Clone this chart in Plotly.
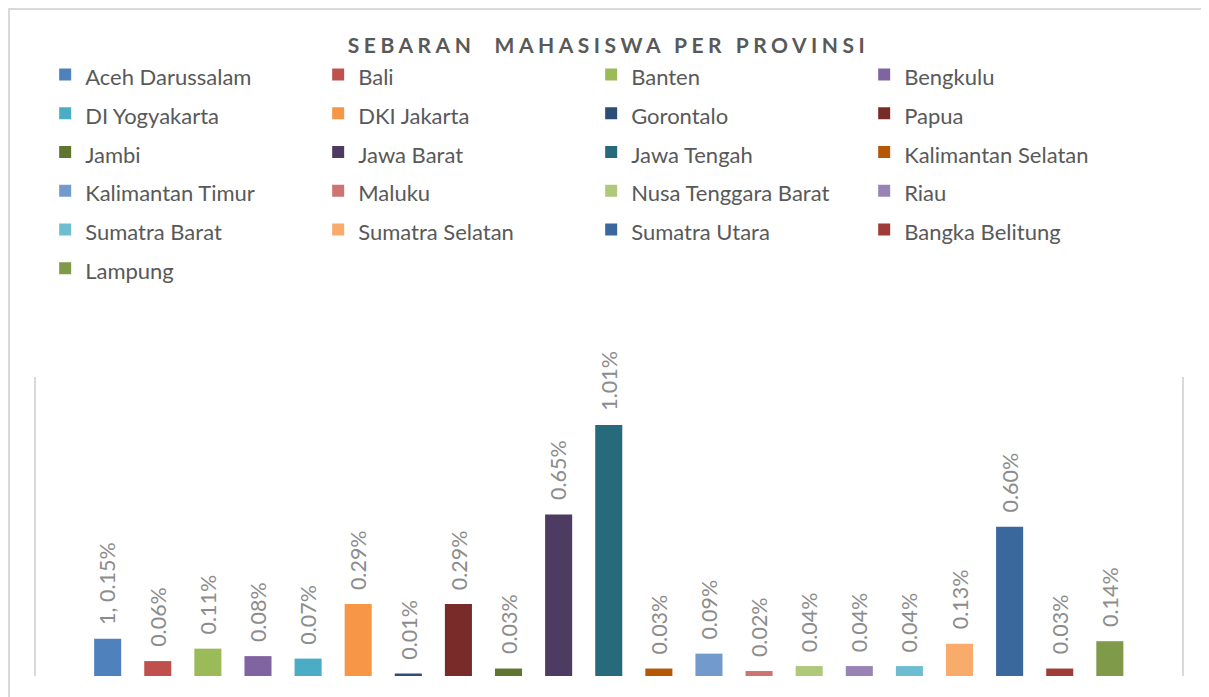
import plotly.graph_objects as go

provinces = ["Aceh Darussalam", "Bali", "Banten", "Bengkulu", "DI Yogyakarta", "DKI Jakarta",
             "Gorontalo", "Papua", "Jambi", "Jawa Barat", "Jawa Tengah", "Kalimantan Selatan",
             "Kalimantan Timur", "Maluku", "Nusa Tenggara Barat", "Riau", "Sumatra Barat",
             "Sumatra Selatan", "Sumatra Utara", "Bangka Belitung", "Lampung"]
values = [0.15, 0.06, 0.11, 0.08, 0.07, 0.29, 0.01, 0.29, 0.03, 0.65, 1.01, 0.03,
          0.09, 0.02, 0.04, 0.04, 0.04, 0.13, 0.60, 0.03, 0.14]
labels = ["1, 0.15%", "0.06%", "0.11%", "0.08%", "0.07%", "0.29%", "0.01%", "0.29%", "0.03%",
          "0.65%", "1.01%", "0.03%", "0.09%", "0.02%", "0.04%", "0.04%", "0.04%", "0.13%",
          "0.60%", "0.03%", "0.14%"]
colors = ["#4F81BD", "#C0504D", "#9BBB59", "#8064A2", "#4BACC6", "#F79646", "#2C4D75",
          "#772C2A", "#5F7530", "#4D3B62", "#276A7C", "#B65708", "#729ACA", "#CD7371",
          "#AFC97A", "#9983B5", "#6FBDD1", "#F9AB6B", "#3A679C", "#9F3B38", "#7F9A48"]

FONT = "Lato"
W, H = 1201, 689
L, R, T, B = 28, 27, 369, 21
PW, PH = W - L - R, H - T - B

fig = go.Figure()
for i, (name, v, c) in enumerate(zip(provinces, values, colors)):
    fig.add_trace(go.Bar(x=[i], y=[v],
                         name='<span style="font-size:22px">' + name + '</span>',
                         marker=dict(color=c, line=dict(width=0)),
                         width=0.54, hovertemplate=name + ": %{y}%<extra></extra>"))

for i, (v, t) in enumerate(zip(values, labels)):
    fig.add_annotation(x=i, y=v, text=t, textangle=-90, showarrow=False,
                       xanchor="center", yanchor="bottom", yshift=12,
                       font=dict(family=FONT, size=21.5, color="#8C8C8C"))

fig.update_layout(
    width=W, height=H,
    margin=dict(l=L, r=R, t=T, b=B),
    paper_bgcolor="white", plot_bgcolor="white",
    barmode="overlay",
    title=dict(text='<b><span style="letter-spacing:4.5px">SEBARAN  MAHASISWA PER PROVINSI</span></b>',
               x=0.5, xref="container", xanchor="center",
               y=1 - 38 / H, yref="container", yanchor="middle",
               font=dict(family=FONT, size=21, color="#595959")),
    xaxis=dict(range=[-1.43, 21.44], showticklabels=False, showgrid=False, zeroline=False,
               showline=False, ticks=""),
    yaxis=dict(range=[0, 1.203], showticklabels=False, showgrid=False, zeroline=False,
               showline=True, mirror=True, linecolor="#D9D9D9", linewidth=2, ticks=""),
    legend=dict(orientation="h", x=0.008, xanchor="left", y=(PH + T - 42) / PH, yanchor="top",
                yref="paper", entrywidth=228, entrywidthmode="pixels",
                font=dict(family=FONT, size=27.5, color="#595959"),
                traceorder="normal", itemclick=False),
    showlegend=True,
)

fig.add_shape(type="rect", xref="paper", yref="paper",
              x0=-(L - 1) / PW, x1=(W + 5 - L) / PW,
              y0=-(B + 5) / PH, y1=(PH + T - 1) / PH,
              line=dict(color="#D9D9D9", width=2), fillcolor="rgba(0,0,0,0)", layer="below")

fig.write_html("out.html")
